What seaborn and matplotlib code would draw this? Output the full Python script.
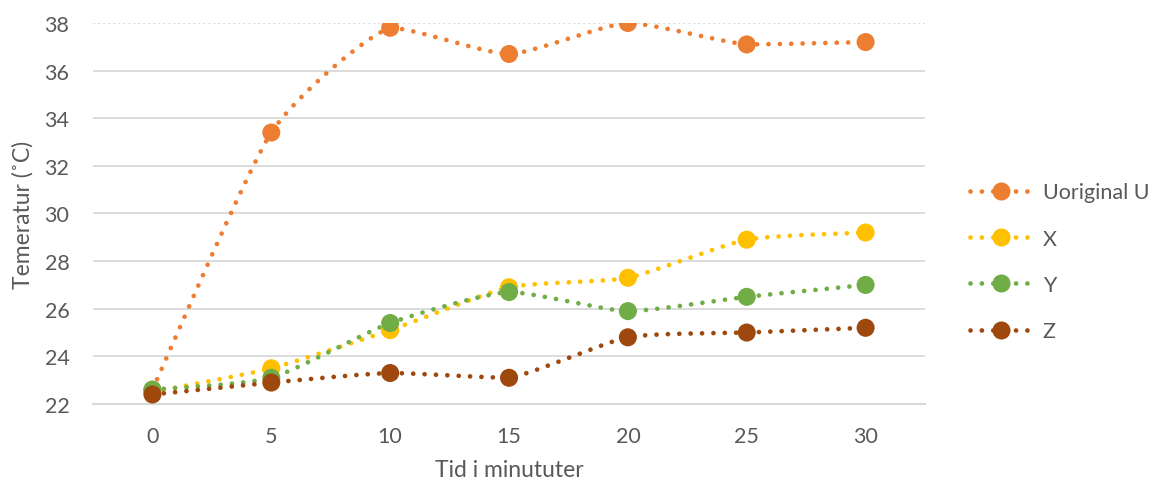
import numpy as np
import pandas as pd
import matplotlib
matplotlib.use("Agg")
import matplotlib.pyplot as plt
from matplotlib.lines import Line2D
import seaborn as sns

# Temperature readings over time
minutes = [0, 5, 10, 15, 20, 25, 30]
u_original = [22.6, 33.4, 37.8, 36.7, 38.0, 37.1, 37.2]
x_vals = [22.5, 23.5, 25.1, 26.9, 27.3, 28.9, 29.2]
y_vals = [22.6, 23.1, 25.4, 26.7, 25.9, 26.5, 27.0]
z_vals = [22.4, 22.9, 23.3, 23.1, 24.8, 25.0, 25.2]

series_names = ["Uoriginal U", "X", "Y", "Z"]
series_values = [u_original, x_vals, y_vals, z_vals]
colors = ["#ED7D31", "#FFC000", "#70AD47", "#9E480E"]

y_ticks = [22, 24, 26, 28, 30, 32, 34, 36, 38]
x_label = "Tid i minututer"
y_label = "Temeratur (˚C)"

sns.set_theme(style="white")
plt.rcParams["font.family"] = ["Lato", "DejaVu Sans"]
text_color = "#595959"
grid_color = "#D9D9D9"


def smooth_curve(xs, ys, steps=40, tension=0.1):
    """Cubic Bezier smoothing through every point, without overshooting a segment."""
    xs = np.asarray(xs, float)
    ys = np.asarray(ys, float)
    n = len(xs)
    out_x, out_y = [], []
    t = np.linspace(0, 1, steps)
    for i in range(n - 1):
        p0 = np.array([xs[max(i - 1, 0)], ys[max(i - 1, 0)]])
        p1 = np.array([xs[i], ys[i]])
        p2 = np.array([xs[i + 1], ys[i + 1]])
        p3 = np.array([xs[min(i + 2, n - 1)], ys[min(i + 2, n - 1)]])
        c1 = p1 + (p2 - p0) * tension
        c2 = p2 - (p3 - p1) * tension
        lo, hi = min(p1[1], p2[1]), max(p1[1], p2[1])
        c1[1] = np.clip(c1[1], lo, hi)
        c2[1] = np.clip(c2[1], lo, hi)
        b = ((1 - t) ** 3)[:, None] * p1 + (3 * (1 - t) ** 2 * t)[:, None] * c1 \
            + (3 * (1 - t) * t ** 2)[:, None] * c2 + (t ** 3)[:, None] * p2
        if i > 0:
            b = b[1:]
        out_x.extend(b[:, 0])
        out_y.extend(b[:, 1])
    return np.array(out_x), np.array(out_y)


fig = plt.figure(figsize=(11.57, 4.85), dpi=100)
ax = fig.add_axes([0.0804, 0.165, 0.7191, 0.7855])

# Gridlines
for yv in y_ticks[1:-1]:
    ax.axhline(yv, color=grid_color, lw=1.3, zorder=0)
ax.axhline(y_ticks[-1], color=grid_color, lw=1.2, ls=(0, (1.5, 1.5)), zorder=0)

dot_style = (0, (0.01, 2.4))
line_w = 3.4
marker_size = 13

handles = []
for k, (name, vals, col) in enumerate(zip(series_names, series_values, colors)):
    sx, sy = smooth_curve(minutes, vals)
    df_line = pd.DataFrame({"t": sx, "v": sy})
    sns.lineplot(data=df_line, x="t", y="v", ax=ax, sort=False, color=col,
                 lw=line_w, estimator=None, zorder=2 + k)
    ln = ax.lines[-1]
    ln.set_linestyle(dot_style)
    ln.set_dash_capstyle("round")
    df_pts = pd.DataFrame({"t": minutes, "v": vals})
    sns.scatterplot(data=df_pts, x="t", y="v", ax=ax, color=col,
                    s=marker_size ** 2, edgecolor="none", linewidth=0,
                    zorder=10 + k)
    h = Line2D([0], [0], color=col, lw=line_w, ls=dot_style,
               dash_capstyle="round", marker="o", markersize=marker_size,
               markeredgewidth=0, markerfacecolor=col)
    handles.append(h)

ax.set_xlim(-2.5, 32.5)
ax.set_ylim(22, 38)
ax.set_xticks(minutes)
ax.set_xticklabels([str(m) for m in minutes])
ax.set_yticks(y_ticks)
ax.set_yticklabels([str(v) for v in y_ticks])

for s in ["top", "right", "left"]:
    ax.spines[s].set_visible(False)
ax.spines["bottom"].set_color(grid_color)
ax.spines["bottom"].set_linewidth(1.5)

ax.tick_params(axis="both", which="major", length=0, labelsize=15.5,
               labelcolor=text_color)
ax.tick_params(axis="x", pad=16)
ax.tick_params(axis="y", pad=17)

# Category boundary tick marks below the axis
ax.set_xticks(np.arange(-2.5, 33, 5), minor=True)
ax.tick_params(axis="x", which="minor", length=7, width=1.5,
               color=grid_color, direction="out")

ax.set_xlabel(x_label, fontsize=16.5, color=text_color, labelpad=9)
ax.set_ylabel(y_label, fontsize=16.5, color=text_color, labelpad=8)

leg = fig.legend(handles, series_names, loc="center left",
                 bbox_to_anchor=(0.822, 0.458), bbox_transform=fig.transFigure,
                 frameon=False, fontsize=15.5,
                 handlelength=2.8, labelspacing=1.22, handletextpad=0.55,
                 labelcolor=text_color)

fig.savefig("out.png", dpi=100)
